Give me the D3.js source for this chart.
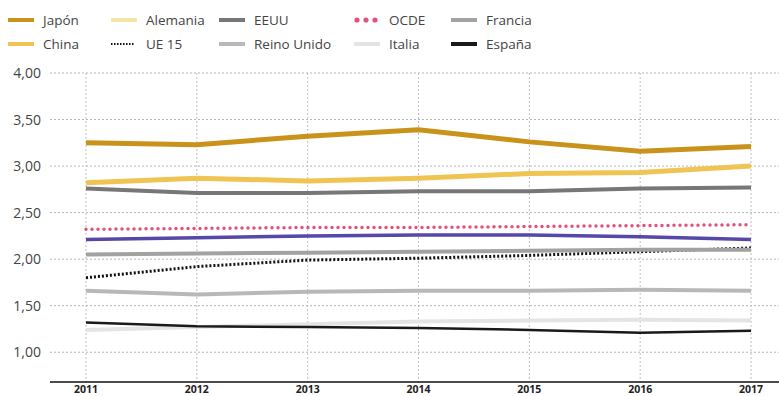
<!DOCTYPE html>
<html>
<head>
<meta charset="utf-8">
<script src="https://cdn.jsdelivr.net/npm/d3@7"></script>
<style>
body { margin: 0; background: #fff; }
svg { display: block; font-family: "Open Sans", sans-serif; }
</style>
</head>
<body>
<div id="chart"></div>
<script>
// años y valores (% del PIB en I+D)
const years = [2011, 2012, 2013, 2014, 2015, 2016, 2017];
const yTicks = [1, 1.5, 2, 2.5, 3, 3.5, 4];

const japon = [3.25, 3.23, 3.32, 3.39, 3.26, 3.16, 3.21];
const china = [2.82, 2.87, 2.84, 2.87, 2.92, 2.93, 3.00];
const eeuu = [2.76, 2.71, 2.71, 2.73, 2.73, 2.76, 2.77];
const ocde = [2.32, 2.33, 2.34, 2.34, 2.35, 2.36, 2.37];
const otro = [2.21, 2.23, 2.25, 2.26, 2.26, 2.24, 2.21];
const ue15 = [1.80, 1.92, 1.99, 2.01, 2.04, 2.08, 2.12];
const francia = [2.05, 2.06, 2.07, 2.08, 2.09, 2.10, 2.10];
const reinoUnido = [1.66, 1.62, 1.65, 1.66, 1.66, 1.67, 1.66];
const italia = [1.24, 1.27, 1.30, 1.33, 1.34, 1.35, 1.34];
const espana = [1.32, 1.28, 1.27, 1.26, 1.24, 1.21, 1.23];

const legendRow1 = ["Japón", "Alemania", "EEUU", "OCDE", "Francia"];
const legendRow2 = ["China", "UE 15", "Reino Unido", "Italia", "España"];

const styles = {
  "Japón": { color: "#c9921a", w: 5 },
  "China": { color: "#efc452", w: 5 },
  "Alemania": { color: "#f4e4a6", w: 4 },
  "UE 15": { color: "#111", w: 3, dash: "2,2" },
  "EEUU": { color: "#777", w: 4 },
  "Reino Unido": { color: "#b8b8b8", w: 4 },
  "OCDE": { color: "#e2527c", w: 4, dots: true },
  "Italia": { color: "#e4e4e4", w: 4 },
  "Francia": { color: "#a2a2a2", w: 4 },
  "España": { color: "#1a1a1a", w: 2.5 },
  "otro": { color: "#5548a8", w: 3.5 }
};

// orden de dibujo
const series = [
  { name: "Italia", values: italia },
  { name: "España", values: espana },
  { name: "Reino Unido", values: reinoUnido },
  { name: "UE 15", values: ue15 },
  { name: "Francia", values: francia },
  { name: "otro", values: otro },
  { name: "OCDE", values: ocde },
  { name: "EEUU", values: eeuu },
  { name: "China", values: china },
  { name: "Japón", values: japon }
];

const W = 779, H = 396;
let svg = d3.select("#chart").append("svg")
  .attr("width", W)
  .attr("height", H);

let x = d3.scalePoint().domain(years).range([86, 751]);
let y = d3.scaleLinear().domain([0.68, 4]).range([382, 73]);

// rejilla horizontal
svg.append("g").selectAll("line")
  .data(yTicks)
  .enter()
  .append("line")
  .attr("x1", 50).attr("x2", W)
  .attr("y1", d => y(d)).attr("y2", d => y(d))
  .attr("stroke", "#b5b5b5")
  .attr("stroke-width", 1)
  .attr("stroke-dasharray", "2,2");

// rejilla vertical
svg.append("g").selectAll("line")
  .data(years)
  .enter()
  .append("line")
  .attr("x1", d => x(d)).attr("x2", d => x(d))
  .attr("y1", y(4)).attr("y2", y(0.68))
  .attr("stroke", "#c0c0c0")
  .attr("stroke-width", 1)
  .attr("stroke-dasharray", "2,2");

// etiquetas eje y
svg.append("g").selectAll("text")
  .data(yTicks)
  .enter()
  .append("text")
  .attr("x", 41)
  .attr("y", d => y(d) + 5)
  .attr("text-anchor", "end")
  .attr("font-size", 14)
  .attr("fill", "#444")
  .text(d => d3.format(".2f")(d).replace(".", ","));

// eje x
svg.append("line")
  .attr("x1", 50).attr("x2", W)
  .attr("y1", y(0.68)).attr("y2", y(0.68))
  .attr("stroke", "#111")
  .attr("stroke-width", 1.5);

svg.append("g").selectAll("text")
  .data(years)
  .enter()
  .append("text")
  .attr("x", d => x(d))
  .attr("y", 393)
  .attr("text-anchor", "middle")
  .attr("font-size", 10.5)
  .attr("font-weight", "bold")
  .attr("fill", "#222")
  .text(d => d);

// lineas
let line = d3.line()
  .x((d, i) => x(years[i]))
  .y(d => y(d));

series.forEach(s => {
  let st = styles[s.name];
  let p = svg.append("path")
    .attr("d", line(s.values))
    .attr("fill", "none")
    .attr("stroke", st.color)
    .attr("stroke-width", st.w);
  if (st.dash) p.attr("stroke-dasharray", st.dash);
  if (st.dots) {
    p.attr("stroke-width", 3.5)
      .attr("stroke-linecap", "round")
      .attr("stroke-dasharray", "0,6");
  }
});

// leyenda
const colX = [8, 111, 219, 354, 451];
const rowY = [20, 44];
[legendRow1, legendRow2].forEach((row, r) => {
  row.forEach((name, c) => {
    let st = styles[name];
    let g = svg.append("g");
    if (st.dots) {
      g.selectAll("circle")
        .data([0, 1, 2])
        .enter()
        .append("circle")
        .attr("cx", d => colX[c] + 3 + d * 9)
        .attr("cy", rowY[r])
        .attr("r", 2.6)
        .attr("fill", st.color);
    } else {
      let sw = g.append("line")
        .attr("x1", colX[c]).attr("x2", colX[c] + 26)
        .attr("y1", rowY[r]).attr("y2", rowY[r])
        .attr("stroke", st.color)
        .attr("stroke-width", st.dash ? 2 : 4);
      if (st.dash) sw.attr("stroke-dasharray", "1.5,1.5").attr("x2", colX[c] + 23);
    }
    g.append("text")
      .attr("x", colX[c] + 35)
      .attr("y", rowY[r] + 5)
      .attr("font-size", 13.5)
      .attr("fill", "#444")
      .text(name);
  });
});
</script>
</body>
</html>
